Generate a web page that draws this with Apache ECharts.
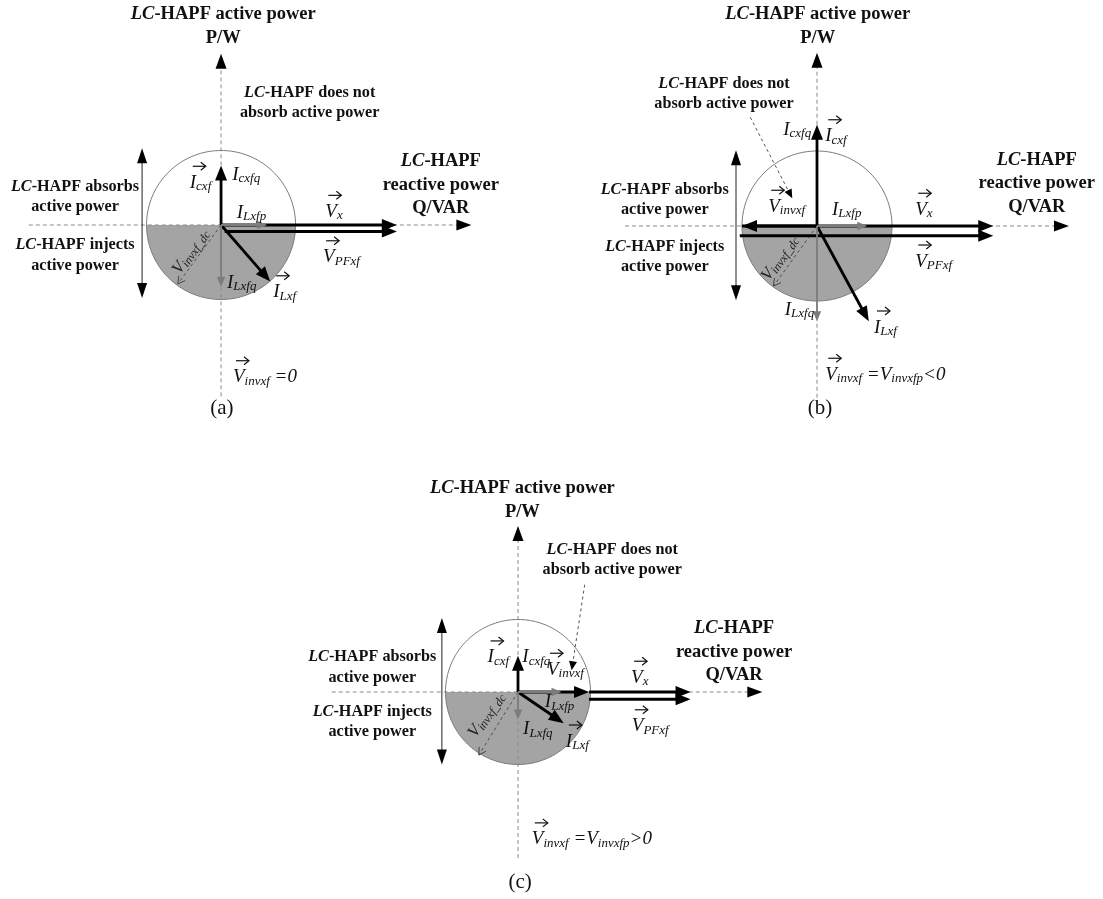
<!DOCTYPE html>
<html><head><meta charset="utf-8">
<script src="https://cdn.jsdelivr.net/npm/echarts@6/dist/echarts.min.js"></script>
<style>html,body{margin:0;padding:0;background:#fff}#c{width:1103px;height:899px}</style>
</head><body><div id="c"></div>
<script>
// ===== DATA (phasor coordinates in units of the circle radius) =====
const panelLetters = ['(a)', '(b)', '(c)'];
const circleRadius = [1, 1, 1];

// axis arrows [x0, y0, x1, y1]  (Q axis, P axis)
const axesA = [[-2.58, 0, 3.36, 0], [0, -2.3, 0, 2.3]];
const axesB = [[-2.56, 0, 3.36, 0], [0, -2.29, 0, 2.31]];
const axesC = [[-2.57, 0, 3.37, 0], [0, -2.29, 0, 2.29]];

// black phasors: Icxf, ILxf, (Vinvxf), Vx, VPFxf
const blackA = [[0, 0, 0, 0.8], [0, 0, 0.66, -0.76], [0, 0, 2.36, 0], [0.05, -0.087, 2.36, -0.087]];
const blackB = [[0, 0, 0, 1.35], [0, 0, 0.69, -1.27], [0, 0, -1.0, 0], [-1.0, 0, 2.35, 0], [-1.03, -0.13, 2.35, -0.13]];
const blackC = [[0, 0, 0, 0.5], [0, 0, 0.63, -0.43], [0, 0, 0.98, 0], [0.98, 0, 2.38, 0], [0.98, -0.1, 2.38, -0.1]];

// grey components: ILxfp, ILxfq
const grayA = [[0, 0, 0.62, 0], [0, 0, 0, -0.83]];
const grayB = [[0, 0, 0.67, 0], [0, 0, 0, -1.27]];
const grayC = [[0, 0, 0.6, 0], [0, 0, 0, -0.38]];

// Vinvxf_dc (dashed)
const dcA = [[0, 0, -0.58, -0.79]];
const dcB = [[0, 0, -0.58, -0.8]];
const dcC = [[0, 0, -0.54, -0.87]];

// absorb / inject side arrows
const sideA = [[-1.06, 0, -1.06, 1.03], [-1.06, 0, -1.06, -0.98]];
const sideB = [[-1.08, 0, -1.08, 1.01], [-1.08, 0, -1.08, -0.99]];
const sideC = [[-1.05, 0, -1.05, 1.02], [-1.05, 0, -1.05, -1.0]];

// "does not absorb" leader lines
const leaderA = [];
const leaderB = [[-0.89, 1.45, -0.33, 0.37]];
const leaderC = [[0.92, 1.48, 0.74, 0.3]];

// bold text blocks
const axisNameP = ['LC-HAPF active power', 'P/W'];
const noteNone = ['LC-HAPF does not', 'absorb active power'];
const axisNameQ = ['LC-HAPF', 'reactive power', 'Q/VAR'];
const noteAbsorb = ['LC-HAPF absorbs', 'active power'];
const noteInject = ['LC-HAPF injects', 'active power'];
const boldTexts = [axisNameP, noteNone, axisNameQ, noteAbsorb, noteInject];
const boldPosA = [[0.03, 2.67], [1.19, 1.64], [2.95, 0.54], [-1.96, 0.38], [-1.96, -0.41]];
const boldPosB = [[0.01, 2.67], [-1.24, 1.76], [2.93, 0.57], [-2.03, 0.35], [-2.03, -0.41]];
const boldPosC = [[0.06, 2.65], [1.30, 1.82], [2.98, 0.55], [-2.01, 0.34], [-2.01, -0.41]];

// phasor labels ("~" = subscript, "|" = next segment)
const vecTextA = ['I~cxf', 'I~cxfq', 'I~Lxfp', 'V~x', 'V~PFxf', 'I~Lxfq', 'I~Lxf', 'V~invxf| =0'];
const vecArrowA = [1, 0, 0, 1, 1, 0, 1, 1];
const vecPosA = [[-0.42, 0.56], [0.15, 0.67], [0.21, 0.16], [1.40, 0.17], [1.37, -0.44], [0.08, -0.78], [0.70, -0.91], [0.16, -2.05]];

const vecTextB = ['V~invxf', 'I~Lxfp', 'V~x', 'V~PFxf', 'I~cxfq', 'I~cxf', 'I~Lxfq', 'I~Lxf', 'V~invxf| =|V~invxfp|<0'];
const vecArrowB = [1, 0, 1, 1, 0, 1, 0, 1, 1];
const vecPosB = [[-0.65, 0.25], [0.2, 0.21], [1.31, 0.21], [1.31, -0.48], [-0.45, 1.28], [0.11, 1.19], [-0.43, -1.12], [0.76, -1.36], [0.11, -1.99]];

const vecTextC = ['I~cxf', 'I~cxfq', 'V~invxf', 'I~Lxfp', 'I~Lxfq', 'I~Lxf', 'V~x', 'V~PFxf', 'V~invxf| =|V~invxfp|>0'];
const vecArrowC = [1, 0, 1, 0, 0, 1, 1, 1, 1];
const vecPosC = [[-0.42, 0.47], [0.06, 0.47], [0.40, 0.30], [0.37, -0.15], [0.07, -0.52], [0.66, -0.69], [1.56, 0.19], [1.57, -0.48], [0.19, -2.04]];

const dcLabelText = 'V~invxf_dc';
const dcLabelPos = [[-0.4, -0.36], [-0.49, -0.43], [-0.43, -0.32]];
const letterPos = [[0.01, -2.46], [0.04, -2.43], [0.03, -2.63]];

// ===== RENDERING =====
const FONT = 'Liberation Serif';
const INK = '#111';
const panels = [
  {axes: axesA, black: blackA, gray: grayA, dc: dcA, side: sideA, leader: leaderA, bold: boldPosA, vt: vecTextA, va: vecArrowA, vp: vecPosA},
  {axes: axesB, black: blackB, gray: grayB, dc: dcB, side: sideB, leader: leaderB, bold: boldPosB, vt: vecTextB, va: vecArrowB, vp: vecPosB},
  {axes: axesC, black: blackC, gray: grayC, dc: dcC, side: sideC, leader: leaderC, bold: boldPosC, vt: vecTextC, va: vecArrowC, vp: vecPosC}
];
const grids = [
  {left: 5, top: 1.5, width: 506.6, height: 447, x: [-2.9, 3.9], y: [-3, 3]},
  {left: 599.5, top: 1, width: 502.5, height: 450, x: [-2.9, 3.8], y: [-3, 3]},
  {left: 307.75, top: 474.5, width: 485.75, height: 424.1, x: [-2.9, 3.8], y: [-2.85, 3]}
];

function headPts(p1, p0, len, hw) {
  const dx = p1[0] - p0[0], dy = p1[1] - p0[1], L = Math.hypot(dx, dy) || 1;
  const ux = dx / L, uy = dy / L;
  const bx = p1[0] - ux * len, by = p1[1] - uy * len;
  return {pts: [[p1[0], p1[1]], [bx - uy * hw, by + ux * hw], [bx + uy * hw, by - ux * hw]], ux, uy};
}

function arrowSeries(gi, data, st) {
  return {
    type: 'custom', xAxisIndex: gi, yAxisIndex: gi, silent: true, clip: false, z: st.z, data,
    renderItem(params, api) {
      const p0 = api.coord([api.value(0), api.value(1)]);
      const p1 = api.coord([api.value(2), api.value(3)]);
      const h = headPts(p1, p0, st.len, st.hw);
      const cut = st.head === 'fill' ? st.len * 0.7 : 0;
      const e = [p1[0] - h.ux * cut, p1[1] - h.uy * cut];
      const ch = [{type: 'line', shape: {x1: p0[0], y1: p0[1], x2: e[0], y2: e[1]},
        style: {stroke: st.color, lineWidth: st.lw, lineDash: st.dash || null}}];
      if (st.head === 'fill') {
        ch.push({type: 'polygon', shape: {points: h.pts}, style: {fill: st.headColor || st.color}});
      } else if (st.head === 'open') {
        ch.push({type: 'polyline', shape: {points: [h.pts[1], h.pts[0], h.pts[2]]},
          style: {stroke: st.color, lineWidth: 1, fill: null}});
      }
      return {type: 'group', children: ch};
    }
  };
}

function circleSeries(gi) {
  return {
    type: 'custom', xAxisIndex: gi, yAxisIndex: gi, silent: true, clip: false, z: 1,
    data: [[0, 0, circleRadius[gi]]],
    renderItem(params, api) {
      const cx = api.value(0), cy = api.value(1), r = api.value(2);
      const lower = [], full = [];
      for (let k = 0; k <= 90; k++) {
        const a = Math.PI + Math.PI * k / 90;
        lower.push(api.coord([cx + r * Math.cos(a), cy + r * Math.sin(a)]));
      }
      for (let k = 0; k <= 180; k++) {
        const a = 2 * Math.PI * k / 180;
        full.push(api.coord([cx + r * Math.cos(a), cy + r * Math.sin(a)]));
      }
      return {type: 'group', children: [
        {type: 'polygon', shape: {points: lower}, style: {fill: '#a4a4a4'}},
        {type: 'polyline', shape: {points: full}, style: {stroke: '#7a7a7a', lineWidth: 1, fill: null}}
      ]};
    }
  };
}

function boldRich(lines) {
  return lines.map(l => l.indexOf('LC-') === 0 ? '{i|LC}{b|' + l.slice(2) + '}' : '{b|' + l + '}').join('\n');
}
function boldStyle(sz, lh) {
  const base = {fontFamily: FONT, fontWeight: 'bold', fontSize: sz, lineHeight: lh, fill: INK};
  return {i: Object.assign({}, base, {fontStyle: 'italic'}), b: base};
}
function boldSeries(gi, pos) {
  return {
    type: 'custom', xAxisIndex: gi, yAxisIndex: gi, silent: true, clip: false, z: 20, data: pos,
    renderItem(params, api) {
      const i = params.dataIndex;
      const p = api.coord([api.value(0), api.value(1)]);
      const big = (i === 0 || i === 2);
      const lh = i === 0 ? 24 : (i === 2 ? 23.5 : 20.5);
      return {type: 'text', style: {text: boldRich(boldTexts[i]), x: p[0], y: p[1], align: 'center',
        verticalAlign: 'middle', rich: boldStyle(big ? 18.5 : 16.2, lh)}};
    }
  };
}

function vecRichStyle(ms, ss, lm, ls, color) {
  return {
    m: {fontFamily: FONT, fontStyle: 'italic', fontSize: ms, lineHeight: lm, verticalAlign: 'top', fill: color},
    s: {fontFamily: FONT, fontStyle: 'italic', fontSize: ss, lineHeight: ls, verticalAlign: 'bottom', fill: color}
  };
}
const VEC_RICH = vecRichStyle(19, 13, 20, 20, INK);
function vecRich(t) {
  return t.split('|').map(seg => {
    const k = seg.indexOf('~');
    return k >= 0 ? '{m|' + seg.slice(0, k) + '}{s|' + seg.slice(k + 1) + '}' : '{m|' + seg + '}';
  }).join('');
}
function vecLabelSeries(gi, pos, texts, arrows) {
  return {
    type: 'custom', xAxisIndex: gi, yAxisIndex: gi, silent: true, clip: false, z: 20, data: pos,
    renderItem(params, api) {
      const i = params.dataIndex;
      const p = api.coord([api.value(0), api.value(1)]);
      const ch = [{type: 'text', style: {text: vecRich(texts[i]), x: p[0], y: p[1] - 10, align: 'left',
        verticalAlign: 'top', rich: VEC_RICH}}];
      if (arrows[i]) {
        const ay = p[1] - 17, ax0 = p[0] + 3, ax1 = p[0] + 16;
        ch.push({type: 'line', shape: {x1: ax0, y1: ay, x2: ax1, y2: ay}, style: {stroke: INK, lineWidth: 1.2}});
        ch.push({type: 'polyline', shape: {points: [[ax1 - 5, ay - 4], [ax1, ay], [ax1 - 5, ay + 4]]},
          style: {stroke: INK, lineWidth: 1.2, fill: null}});
      }
      return {type: 'group', children: ch};
    }
  };
}
function dcLabelSeries(gi) {
  return {
    type: 'custom', xAxisIndex: gi, yAxisIndex: gi, silent: true, clip: false, z: 20, data: [dcLabelPos[gi]],
    renderItem(params, api) {
      const p = api.coord([api.value(0), api.value(1)]);
      return {type: 'text', x: p[0], y: p[1], rotation: 55 * Math.PI / 180,
        style: {text: vecRich(dcLabelText), x: 0, y: -9, align: 'center', verticalAlign: 'top',
          rich: vecRichStyle(17, 12, 18, 18, '#222')}};
    }
  };
}
function letterSeries(gi) {
  return {
    type: 'custom', xAxisIndex: gi, yAxisIndex: gi, silent: true, clip: false, z: 20, data: [letterPos[gi]],
    renderItem(params, api) {
      const p = api.coord([api.value(0), api.value(1)]);
      return {type: 'text', style: {text: panelLetters[gi], x: p[0], y: p[1], align: 'center',
        verticalAlign: 'middle', fontFamily: FONT, fontSize: 21, fill: INK}};
    }
  };
}

const series = [];
panels.forEach((P, gi) => {
  series.push(circleSeries(gi));
  series.push(arrowSeries(gi, P.axes, {z: 3, color: '#8a8a8a', lw: 1, dash: [4, 3], head: 'fill', headColor: '#000', len: 15, hw: 5.5}));
  series.push(arrowSeries(gi, P.side, {z: 3, color: '#222', lw: 1, head: 'fill', headColor: '#000', len: 15, hw: 5}));
  series.push(arrowSeries(gi, P.dc, {z: 4, color: '#444', lw: 0.9, dash: [3, 3], head: 'open', len: 7, hw: 4}));
  series.push(arrowSeries(gi, P.leader, {z: 4, color: '#444', lw: 0.9, dash: [3, 3], head: 'fill', headColor: '#000', len: 9, hw: 4}));
  series.push(arrowSeries(gi, P.black, {z: 6, color: '#000', lw: 2.8, head: 'fill', len: 15, hw: 6}));
  series.push(arrowSeries(gi, P.gray, {z: 7, color: '#7c7c7c', lw: 1.8, head: 'fill', len: 10, hw: 4.2}));
  series.push(boldSeries(gi, P.bold));
  series.push(vecLabelSeries(gi, P.vp, P.vt, P.va));
  series.push(dcLabelSeries(gi));
  series.push(letterSeries(gi));
});

const chart = echarts.init(document.getElementById('c'), null, {renderer: 'canvas'});
chart.setOption({
  animation: false,
  backgroundColor: '#fff',
  grid: grids.map(g => ({left: g.left, top: g.top, width: g.width, height: g.height, outerBoundsMode: 'none'})),
  xAxis: grids.map((g, i) => ({type: 'value', gridIndex: i, min: g.x[0], max: g.x[1], show: false})),
  yAxis: grids.map((g, i) => ({type: 'value', gridIndex: i, min: g.y[0], max: g.y[1], show: false})),
  series
});
</script>
</body></html>
